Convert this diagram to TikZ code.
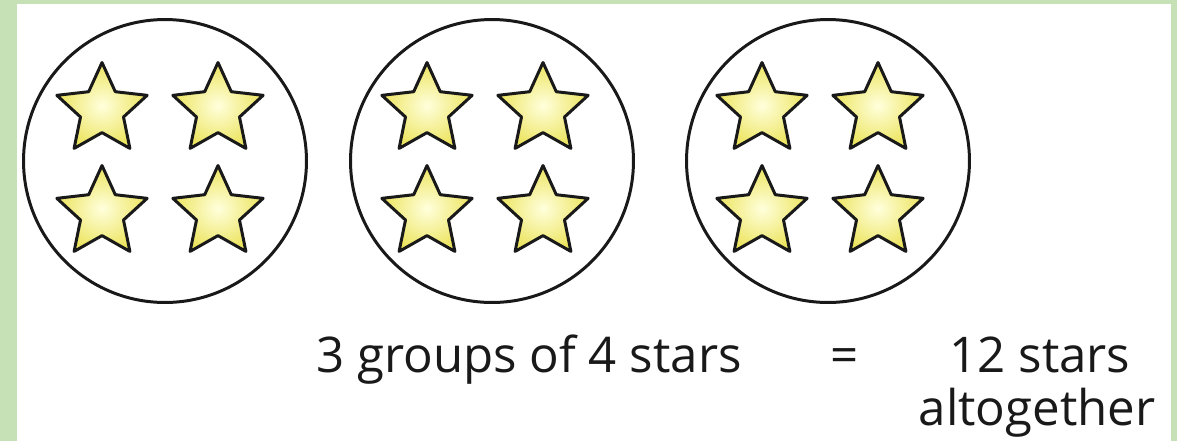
\documentclass[tikz,border=0pt]{standalone}
\usepackage{fontspec}
\setmainfont{Open Sans}
\usepackage{xcolor}
\usetikzlibrary{shapes.geometric,positioning}

\definecolor{frame}{RGB}{199,225,182}
\definecolor{starin}{RGB}{255,255,220}
\definecolor{starout}{RGB}{236,228,95}
\definecolor{ink}{RGB}{25,25,25}

\begin{document}
\begin{tikzpicture}[
  x=0.02cm, y=-0.02cm,
  grp/.style={draw=ink, circle, line width=1.7pt, minimum size=5.66cm, inner sep=0pt},
  starbox/.style={star, star points=5, star point ratio=2.1, minimum size=1.9cm, inner sep=0pt,
    draw=ink, line width=1.7pt, line join=round, inner color=starin, outer color=starout},
  lbl/.style={font=\fontsize{28}{32}\selectfont, text=ink, inner sep=0pt, anchor=base}
]
  % frame and page
  \fill[frame] (0,0) rectangle (1177,441);
  \fill[white] (17,4) rectangle (1171,441);
  \useasboundingbox (0,0) rectangle (1177,441);

  % groups of stars
  \foreach \n/\cx/\sx in {1/165/160, 2/492/485, 3/828/820} {
    \node[grp] (g\n) at (\cx,161) {};
    \node[starbox] (s\n a) at (\sx-58,110) {};
    \node[starbox] (s\n b) at (\sx+58,110) {};
    \node[starbox] (s\n c) at (\sx-58,213) {};
    \node[starbox] (s\n d) at (\sx+58,213) {};
  }

  % sentence
  \node[lbl] (lhs) at (529,372) {3 groups of 4 stars};
  \node[lbl] (eq) at (845,372) {=};
  \node[lbl] (tot) at (1040,372) {12 stars};
  \node[lbl] (tot2) at (1037,425) {altogether};
\end{tikzpicture}
\end{document}
